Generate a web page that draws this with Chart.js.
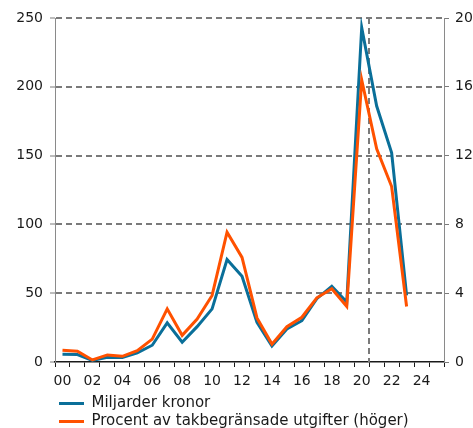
<!DOCTYPE html>
<html>
<head>
<meta charset="utf-8">
<script src="https://cdn.jsdelivr.net/npm/chart.js@4.4.1/dist/chart.umd.min.js"></script>
<style>
  html, body { margin: 0; padding: 0; background: #fff; }
  #wrap { width: 473px; height: 428px; }
</style>
</head>
<body>
<div id="wrap"><canvas id="c" width="473" height="428"></canvas></div>
<script>
// Years 2000–2025 shown as two-digit labels
const years = ['00','01','02','03','04','05','06','07','08','09','10','11','12',
               '13','14','15','16','17','18','19','20','21','22','23','24','25'];

// Billion SEK (left axis)
const billionKronor = [5.6, 5.4, 1.2, 3.4, 3.2, 6.6, 12.2, 28.4, 14.4, 25.7, 38.6, 74.5, 62.3,
                       28.8, 11.7, 24.0, 30.0, 46.0, 55.0, 43.5, 243.0, 186.0, 152.0, 48.4, null, null];

// Percent of expenditure under the ceiling (right axis)
const percentOfCapped = [0.69, 0.63, 0.12, 0.41, 0.33, 0.66, 1.33, 3.09, 1.55, 2.5, 3.87, 7.55, 6.08,
                         2.56, 1.04, 2.05, 2.6, 3.73, 4.26, 3.23, 16.4, 12.4, 10.2, 3.23, null, null];

const seriesNames = ['Miljarder kronor', 'Procent av takbegränsade utgifter (höger)'];
const leftTicks = [0, 50, 100, 150, 200, 250];
const rightTicks = [0, 4, 8, 12, 16, 20];

// Vertical divider between 2020 and 2021
const dividerAt = 20.5;

const BLUE = '#0a6f99';
const ORANGE = '#ff5100';
const GRID = '#7a7a7a';
const TEXT = '#1a1a1a';

const dividerPlugin = {
  id: 'divider',
  beforeDatasetsDraw(chart) {
    const { ctx, chartArea, scales } = chart;
    const x = Math.round(scales.x.getPixelForValue(dividerAt));
    ctx.save();
    ctx.strokeStyle = GRID;
    ctx.lineWidth = 2;
    ctx.setLineDash([6, 4]);
    ctx.beginPath();
    ctx.moveTo(x, chartArea.top);
    ctx.lineTo(x, chartArea.bottom);
    ctx.stroke();
    ctx.restore();
  }
};

// Line the legend up with the plot's left edge, tucked under the axis labels
const legendOffset = {
  id: 'legendOffset',
  beforeDraw(chart) {
    if (chart.legend) {
      chart.legend.left = chart.chartArea.left + 1;
      chart.legend.top = chart.scales.x.bottom + 3;
    }
  }
};

Chart.defaults.font.family = 'DejaVu Sans';
Chart.defaults.font.size = 14;
Chart.defaults.color = TEXT;

new Chart(document.getElementById('c'), {
  type: 'line',
  data: {
    labels: years,
    datasets: [
      {
        label: seriesNames[0],
        data: billionKronor,
        yAxisID: 'y',
        borderColor: BLUE,
        backgroundColor: BLUE,
        borderWidth: 3,
        pointRadius: 0,
        tension: 0,
        order: 1
      },
      {
        label: seriesNames[1],
        data: percentOfCapped,
        yAxisID: 'y1',
        borderColor: ORANGE,
        backgroundColor: ORANGE,
        borderWidth: 3,
        pointRadius: 0,
        tension: 0,
        order: 0
      }
    ]
  },
  options: {
    responsive: false,
    animation: false,
    devicePixelRatio: 1,
    layout: { padding: { left: 12, top: 18, right: 0, bottom: -8 } },
    plugins: {
      tooltip: { enabled: false },
      legend: {
        position: 'bottom',
        align: 'start',
        labels: {
          boxWidth: 25,
          boxHeight: 3,
          padding: 3,
          font: { size: 15 },
          sort: (a, b) => a.datasetIndex - b.datasetIndex,
          generateLabels(chart) {
            return Chart.defaults.plugins.legend.labels.generateLabels(chart).map(item => {
              item.lineWidth = 0;
              item.fillStyle = item.strokeStyle;
              return item;
            });
          }
        }
      }
    },
    scales: {
      x: {
        type: 'category',
        offset: true,
        grid: {
          offset: true,
          drawOnChartArea: false,
          drawTicks: true,
          tickLength: 5,
          tickColor: TEXT,
          tickWidth: 1
        },
        border: { display: true, color: TEXT, width: 1.5 },
        ticks: {
          autoSkip: false,
          maxRotation: 0,
          padding: 6,
          callback: (v, i) => (i % 2 === 0 ? years[i] : '')
        },
        afterFit: s => { s.height = 28; }
      },
      y: {
        position: 'left',
        min: 0,
        max: 250,
        afterBuildTicks: s => { s.ticks = leftTicks.map(v => ({ value: v })); },
        afterFit: s => { s.width = 43; },
        grid: {
          color: (ctx) => (ctx.tick && ctx.tick.value === 0 ? 'rgba(0,0,0,0)' : GRID),
          lineWidth: 2,
          tickColor: GRID,
          tickLength: 5,
          tickWidth: 1
        },
        border: { display: true, color: '#8a8a8a', width: 1, dash: [6, 4] },
        ticks: { padding: 7 }
      },
      y1: {
        position: 'right',
        min: 0,
        max: 20,
        afterBuildTicks: s => { s.ticks = rightTicks.map(v => ({ value: v })); },
        afterFit: s => { s.width = 29; },
        grid: {
          drawOnChartArea: false,
          tickColor: GRID,
          tickLength: 5,
          tickWidth: 1
        },
        border: { display: true, color: '#8a8a8a', width: 1 },
        ticks: { padding: 6 }
      }
    }
  },
  plugins: [dividerPlugin, legendOffset]
});
</script>
</body>
</html>
